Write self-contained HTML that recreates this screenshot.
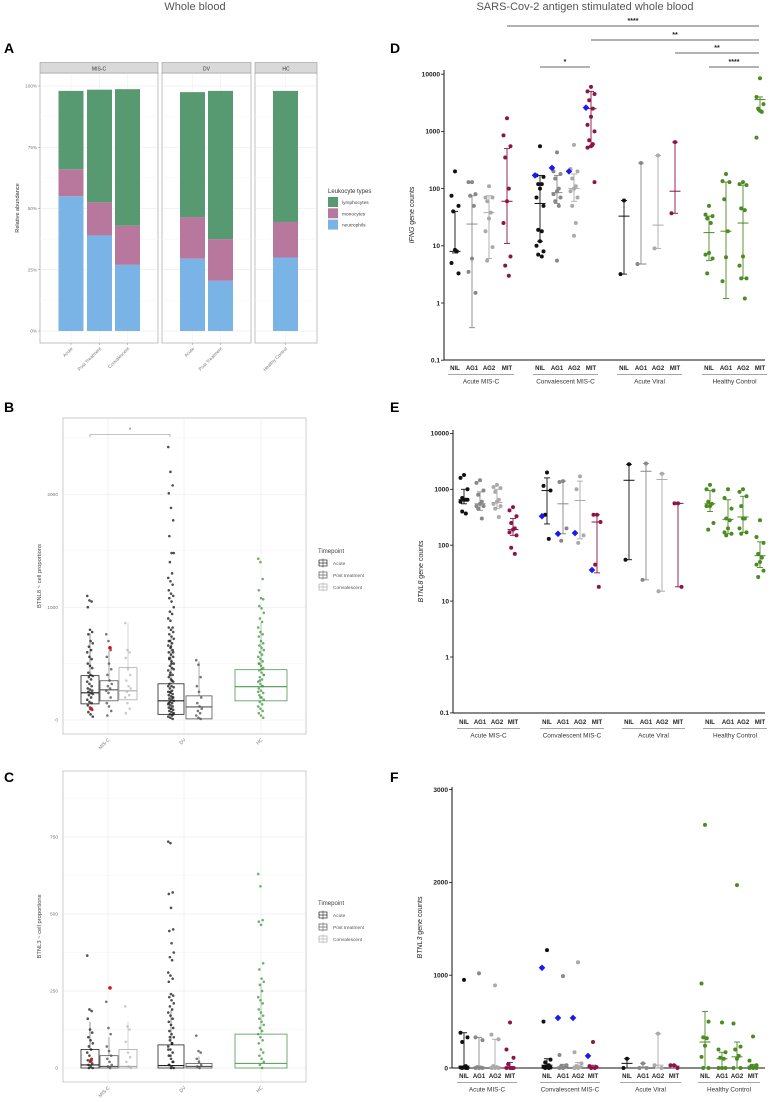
<!DOCTYPE html>
<html><head><meta charset="utf-8"><style>
body{margin:0;background:#fff}
svg{display:block;font-family:"Liberation Sans",sans-serif}
</style></head><body>
<svg id="fig" width="774" height="1102" viewBox="0 0 774 1102">
<text x="195" y="10" text-anchor="middle" font-size="11" fill="#555">Whole blood</text>
<text x="585" y="10" text-anchor="middle" font-size="11" fill="#555">SARS-Cov-2 antigen stimulated whole blood</text>
<text x="4" y="53" font-size="14" font-weight="bold">A</text>
<text x="4" y="412" font-size="14" font-weight="bold">B</text>
<text x="4" y="782" font-size="14" font-weight="bold">C</text>
<text x="390" y="53" font-size="14" font-weight="bold">D</text>
<text x="390" y="412" font-size="14" font-weight="bold">E</text>
<text x="390" y="782" font-size="14" font-weight="bold">F</text>
</svg>
<script>
// ---------- Panel A data ----------
const aCategories=["Acute","Post Treatment","Convalescent","Acute","Post Treatment","Healthy Control"];
const aNeutrophils=[55,39,27,29.5,20.5,30];
const aMonocytes=[11,13.5,16,17,17,14.5];
const aLymphocytes=[32,46,55.7,51,60.5,53.5];
const aTicks=["0%","25%","50%","75%","100%"];
// ---------- Panel B data ----------
const bMisA=[1100,1060,1050,1000,800,780,760,700,680,650,620,600,560,540,500,480,460,420,400,390,380,360,340,320,300,280,270,260,250,240,230,220,200,180,160,150,130,110,90,70,50,30];
const bMisPT=[760,700,620,560,500,450,400,350,320,300,280,260,240,200,150,120,80,40];
const bMisC=[860,620,600,550,450,400,350,300,280,250,220,200,150,100,60];
const bDvA=[2420,2200,2080,2010,1880,1770,1630,1480,1480,1400,1300,1260,1230,1200,1150,1120,1100,1080,1050,1000,960,940,900,880,820,820,800,780,760,740,720,700,680,660,640,620,600,580,560,540,520,500,480,460,440,420,400,380,360,340,320,300,290,280,260,250,240,230,220,210,200,190,180,170,160,150,140,130,120,110,100,90,80,70,60,50,40,30,20,10,700,650,600,550,500,450,400,350,300,250,200,150,100,50];
const bDvPT=[530,490,380,300,250,200,150,120,100,80,60,40,20,10];
const bHc=[1430,1400,1250,1150,1080,1070,1010,990,950,900,870,820,780,760,740,700,680,660,640,620,600,580,560,540,520,500,480,460,440,420,400,380,360,340,320,300,280,260,240,220,200,180,160,140,120,100,80,60,40,20,500,450,400,350,300,250,200];
const bRed=[[0,100],[1,640]];
const bQ1=[143,170,179,50,10,170];
const bMed=[241,268,259,170,116,295];
const bQ3=[393,348,464,321,214,446];
const bTicks=[0,1000,2000];
// ---------- Panel C data ----------
const cMisA=[365,190,185,160,125,115,100,90,80,70,60,50,40,30,25,20,15,10,5,0,0];
const cMisPT=[215,130,110,70,55,40,30,20,10,5,0];
const cMisC=[200,135,125,85,50,35,20,5,0];
const cDvA=[735,730,570,565,520,450,445,405,375,360,350,310,300,290,280,240,235,230,220,210,200,190,180,170,160,150,140,130,120,110,100,90,80,70,60,50,40,30,20,10,5,0,100,80,60,40,20,10,0];
const cDvPT=[105,55,50,30,20,10,5,0];
const cHc=[630,590,480,475,465,340,320,290,280,270,250,230,220,210,190,180,170,160,150,140,130,120,110,100,90,80,60,50,40,30,20,10,0];
const cRed=[[0,25],[1,260]];
const cQ1=[0,0,0,0,0,0];
const cMed=[10,5,5,8,5,15];
const cQ3=[60,40,60,75,15,110];
const cTicks=[0,250,500,750];
// ---------- Panel D data (IFNG) ----------
const dValues=[[200,75,50,40,8,8.5,5,3.3],[130,130,80,75,50,6,3.5,1.5],[110,70,70,60,38,30,18,9.5,5.5],[1700,850,550,350,100,60,25,6.5,4.5,3],
[550,170,160,120,120,100,70,50,19,18,12,10,8,7,6.5],[430,200,180,150,100,90,80,70,60,50,5.5],[580,220,200,150,110,100,90,70,50,25,15],[6000,5000,4500,3500,2500,1800,1300,1000,700,600,550,520,130],
[62,3.2],[280,4.8],[380,9],[650,37],
[50,35,33,30,25,7.5,7,6,3.3],[180,135,130,65,18,6.3,2.4],[130,120,115,45,42,6.5,4.5,2.7,2.7,1.2],[8500,4000,3000,2500,2200,2300,780]];
const dMeans=[8,24,38,60,55,85,100,2500,33,4.8,23,90,17,18,25,3600];
const dErrLo=[7.5,0.37,6,11,12,55,60,550,3.2,4.8,9,37,5.5,1.2,2.7,2300];
const dErrHi=[40,75,75,500,170,170,180,5000,62,280,380,650,33,130,115,4000];
const dBlue=[[4,170],[5,230],[6,200],[7,2600]];
const dTicks=["0.1","1","10","100","1000","10000"];
// ---------- Panel E data (BTNL8) ----------
const eValues=[[1800,1600,1000,700,650,650,600,650,400,370],[1450,1300,950,800,600,550,500,500,450,300],[1200,1100,1050,900,650,600,550,500,450,320],[480,420,330,250,200,190,170,150,90,70],
[2000,1150,950,350,130],[1400,1350,200,120],[1700,1000,150,110],[350,350,260,45,18],
[2800,55],[2900,24],[1900,15],[560,560,18],
[1200,1000,950,600,550,500,500,250,190],[1000,700,450,300,280,200,170,160,150],[1000,900,750,500,300,300,200,170,160],[280,140,110,70,60,50,45,35,27]];
const eMeans=[650,550,580,190,950,550,630,260,1450,2100,1500,560,550,290,320,65];
const eErrLo=[550,420,450,150,240,160,130,32,55,24,15,18,400,160,170,40];
const eErrHi=[1000,900,1000,300,1600,1400,1400,350,2800,2900,1900,560,950,650,750,115];
const eBlue=[[4,330],[5,160],[6,165],[7,36]];
const eTicks=["0.1","1","10","100","1000","10000"];
// ---------- Panel F data (BTNL3) ----------
const fValues=[[950,380,330,280,20,10,5,0,0,0],[1020,330,300,10,5,0,0,0],[890,360,310,20,10,0,0,0],[490,200,110,40,0,0,0,0],
[1270,500,90,60,30,20,10,5,0,0],[990,140,30,20,10,0,0],[1140,170,50,20,10,0,0],[280,20,10,0,0],
[100,0],[50,0,0],[370,30,0],[30,30,0],
[2620,910,500,330,320,240,120,0,0],[490,200,170,110,100,0,0,0],[1970,480,230,200,130,100,0,0],[340,80,30,20,10,0,0,0]];
const fMeans=[20,10,15,10,30,15,20,10,50,10,30,20,280,100,120,20];
const fErrLo=[0,0,0,0,0,0,0,0,0,0,0,0,0,0,0,0];
const fErrHi=[380,330,310,60,100,40,60,30,100,50,370,30,610,170,280,40];
const fBlue=[[4,1080],[5,540],[6,540],[7,130]];
const fTicks=[0,1000,2000,3000];
const subLabels=["NIL","AG1","AG2","MIT"];
const groupNames=["Acute MIS-C","Convalescent MIS-C","Acute Viral","Healthy Control"];

const NS="http://www.w3.org/2000/svg";
const svg=document.getElementById('fig');
function mk(tag,attrs,parent,txt){const e=document.createElementNS(NS,tag);for(const k in attrs)e.setAttribute(k,attrs[k]);if(txt!==undefined)e.textContent=txt;(parent||svg).appendChild(e);return e;}
function grp(name){const g=mk('g',{});return g;}

// ================= Panel A =================
(function(){
  const g=grp('panel-a');
  const y=v=>331-v*2.45;
  const facets=[["MIS-C",40,158],["DV",162,251],["HC",255,317]];
  const barX=[71,99.5,127.5,192.5,220.5,285.5];
  facets.forEach(f=>{
    const fg=mk('g',{},g);
    mk('rect',{x:f[1],y:73,width:f[2]-f[1],height:270,fill:'#fff',stroke:'#999','stroke-width':0.6},fg);
    for(let t=0;t<=100;t+=12.5)mk('line',{x1:f[1],x2:f[2],y1:y(t),y2:y(t),stroke:t%25?'#f4f4f4':'#e6e6e6','stroke-width':0.5},fg);
    barX.forEach(bx=>{if(bx>f[1]&&bx<f[2])mk('line',{x1:bx,x2:bx,y1:73,y2:343,stroke:'#ececec','stroke-width':0.5},fg);});
    const s=mk('rect',{x:f[1],y:62.5,width:f[2]-f[1],height:10.5,fill:'#d9d9d9',stroke:'#999','stroke-width':0.6},fg);
    
    mk('text',{x:(f[1]+f[2])/2,y:70.3,'text-anchor':'middle','font-size':5,fill:'#333'},fg,f[0]);
  });
  aTicks.forEach((t,i)=>{const tt=mk('text',{x:37,y:y(i*25)+1.7,'text-anchor':'end','font-size':4.6,fill:'#777'},g,t);
    
    mk('line',{x1:38,x2:40,y1:y(i*25),y2:y(i*25),stroke:'#888','stroke-width':0.5},g);});
  const yt=mk('text',{x:0,y:0,transform:'translate(19,208) rotate(-90)','text-anchor':'middle','font-size':5.6,fill:'#333'},g,'Relative abundance');
  
  aCategories.forEach((c,i)=>{
    const bx=barX[i],w=25;
    const n=aNeutrophils[i],m=aMonocytes[i],l=aLymphocytes[i];
    const r1=mk('rect',{x:bx-w/2,y:y(n),width:w,height:y(0)-y(n),fill:'#7ab3e6'},g);
    
    const r2=mk('rect',{x:bx-w/2,y:y(n+m),width:w,height:y(n)-y(n+m),fill:'#b8789e'},g);
    
    const r3=mk('rect',{x:bx-w/2,y:y(n+m+l),width:w,height:y(n+m)-y(n+m+l),fill:'#579a72'},g);
    
    mk('line',{x1:bx,x2:bx,y1:343,y2:345,stroke:'#888','stroke-width':0.5},g);
    const tx=mk('text',{x:0,y:0,transform:`translate(${bx+2},${349}) rotate(-45)`,'text-anchor':'end','font-size':4.6,fill:'#777'},g,c);
    
  });
  const lg=mk('g',{},g);
  mk('text',{x:328,y:193,'font-size':6,fill:'#333'},lg,'Leukocyte types');
  [['lymphocytes','#579a72'],['monocytes','#b8789e'],['neutrophils','#7ab3e6']].forEach((e,i)=>{
    const eg=mk('g',{},lg);
    mk('rect',{x:328,y:197+i*11.3,width:10,height:10,fill:e[1]},eg);
    mk('text',{x:342,y:204+i*11.3,'font-size':4.8,fill:'#444'},eg,e[0]);
  });
})();

// ================= Panels B & C (box + jitter) =================
function boxPanel(name,top,bottom,y,ticks,title,groupsVals,reds,q1,med,q3,legendY){
  const g=grp(name);
  const X0=63,X1=306;
  mk('rect',{x:X0,y:top,width:X1-X0,height:bottom-top,fill:'#fff',stroke:'#aaa','stroke-width':0.6},g);
  const step=ticks[1]-ticks[0];
  for(let v=0;v<=ticks[ticks.length-1]+step;v+=step/2){const yy=y(v);if(yy<top)break;mk('line',{x1:X0,x2:X1,y1:yy,y2:yy,stroke:v%step?'#f3f3f3':'#e6e6e6','stroke-width':0.5},g);}
  [108,184,261].forEach(x=>mk('line',{x1:x,x2:x,y1:top,y2:bottom,stroke:'#e6e6e6','stroke-width':0.5},g));
  ticks.forEach(t=>{const tt=mk('text',{x:58,y:y(t)+1.7,'text-anchor':'end','font-size':4.8,fill:'#777'},g,String(t));
    });
  const yt=mk('text',{x:0,y:0,transform:`translate(41,${(top+bottom)/2}) rotate(-90)`,'text-anchor':'middle','font-size':5.8,fill:'#444'},g,title);
  
  [['MIS-C',108],['DV',184],['HC',261]].forEach(l=>{const tx=mk('text',{x:0,y:0,transform:`translate(${l[1]+2},${bottom+6}) rotate(-45)`,'text-anchor':'end','font-size':4.8,fill:'#777'},g,l[0]);
    });
  const cx=[90,109,128,171,199,261],bw=[18,18,18,26,26,52];
  const cols=['#222','#555','#aaa','#222','#555','#4e9a4e'];
  groupsVals.forEach((vals,gi)=>{
    const bg=mk('g',{},g);
    const b=mk('rect',{x:cx[gi]-bw[gi]/2,y:y(q3[gi]),width:bw[gi],height:y(q1[gi])-y(q3[gi]),fill:'none',stroke:cols[gi],'stroke-width':0.8},bg);
    
    mk('line',{x1:cx[gi]-bw[gi]/2,x2:cx[gi]+bw[gi]/2,y1:y(med[gi]),y2:y(med[gi]),stroke:cols[gi],'stroke-width':1.1},bg);
    const iqr=q3[gi]-q1[gi];const hiW=Math.min(Math.max(...vals),q3[gi]+1.5*iqr);
    mk('line',{x1:cx[gi],x2:cx[gi],y1:y(q3[gi]),y2:y(hiW),stroke:cols[gi],'stroke-width':0.5},bg);
    vals.forEach((v,i)=>{
      const jx=((i*37)%11-5)*0.55;
      const c=mk('circle',{cx:cx[gi]+jx,cy:y(v),r:1.3,fill:cols[gi],'fill-opacity':gi==2?0.6:0.8},bg);
      
    });
  });
  reds.forEach(r=>{const c=mk('circle',{cx:cx[r[0]]+1,cy:y(r[1]),r:1.8,fill:'#e01010'},g);
    });
  const lg=mk('g',{},g);
  mk('text',{x:318,y:legendY,'font-size':6,fill:'#444'},lg,'Timepoint');
  [['Acute','#222'],['Post treatment','#555'],['Convalescent','#aaa']].forEach((e,i)=>{
    const eg=mk('g',{},lg);
    const yy=legendY+7+i*12;
    mk('rect',{x:319,y:yy,width:8,height:6,fill:'none',stroke:e[1],'stroke-width':0.7},eg);
    mk('line',{x1:319,x2:327,y1:yy+3,y2:yy+3,stroke:e[1],'stroke-width':0.7},eg);
    mk('line',{x1:323,x2:323,y1:yy-1.5,y2:yy+7.5,stroke:e[1],'stroke-width':0.5},eg);
    mk('text',{x:333,y:yy+5,'font-size':4.8,fill:'#555'},eg,e[0]);
  });
  return g;
}
const gB=boxPanel('panel-b',418,734,v=>720-v*0.1128,bTicks,'BTNL8 ~ cell proportions',[bMisA,bMisPT,bMisC,bDvA,bDvPT,bHc],bRed,bQ1,bMed,bQ3,553);
mk('path',{d:'M90,437 V434.5 H170 V437',fill:'none',stroke:'#888','stroke-width':0.6},gB);
mk('text',{x:130,y:432,'text-anchor':'middle','font-size':6,fill:'#444'},gB,'*');
boxPanel('panel-c',771,1082,v=>1068-v*0.308,cTicks,'BTNL3 ~ cell proportions',[cMisA,cMisPT,cMisC,cDvA,cDvPT,cHc],cRed,cQ1,cMed,cQ3,905);

// ================= Panels D/E/F (dot plots) =================
function dotPanel(name,axisX,xs,top,bottom,y,tickVals,tickLabels,title,values,means,lo,hi,blue,lblY){
  const g=grp(name);
  const endX=765;
  mk('line',{x1:axisX,x2:axisX,y1:top,y2:bottom,stroke:'#111','stroke-width':1},g);
  mk('line',{x1:axisX,x2:endX,y1:bottom,y2:bottom,stroke:'#111','stroke-width':1},g);
  tickVals.forEach((t,i)=>{mk('line',{x1:axisX-3,x2:axisX,y1:y(t),y2:y(t),stroke:'#111','stroke-width':0.8},g);
    const tt=mk('text',{x:axisX-4,y:y(t)+2.3,'text-anchor':'end','font-size':6.6,'font-weight':'bold',fill:'#222'},g,tickLabels[i]);
    });
  const yt=mk('text',{x:0,y:0,transform:`translate(${axisX-30},${(top+bottom)/2}) rotate(-90)`,'text-anchor':'middle','font-size':7,fill:'#222'},g);
  
  mk('tspan',{'font-style':'italic'},yt,title);mk('tspan',{},yt,' gene counts');
  const colsBase=['#111','#888','#aaa','#8b1448'];
  values.forEach((vals,k)=>{
    const gi=Math.floor(k/4),si=k%4;const col=gi==3?'#4c8a22':colsBase[si];const x=xs[k];
    const sg=mk('g',{},g);
    mk('line',{x1:x,x2:x,y1:y(lo[k]),y2:y(hi[k]),stroke:col,'stroke-width':0.9},sg);
    mk('line',{x1:x-3,x2:x+3,y1:y(lo[k]),y2:y(lo[k]),stroke:col,'stroke-width':0.9},sg);
    mk('line',{x1:x-3,x2:x+3,y1:y(hi[k]),y2:y(hi[k]),stroke:col,'stroke-width':0.9},sg);
    mk('line',{x1:x-5.5,x2:x+5.5,y1:y(means[k]),y2:y(means[k]),stroke:col,'stroke-width':1},sg);
    vals.forEach((v,i)=>{const jx=[0,-3.5,3.5,-1.8,1.8][i%5];
      const c=mk('circle',{cx:x+jx,cy:y(v),r:2,fill:col},sg);
      });
    mk('text',{x:x,y:lblY,'text-anchor':'middle','font-size':6,'font-weight':'bold',fill:'#222'},g,subLabels[si]);
  });
  blue.forEach(b=>{const x=xs[b[0]]-5,yy=y(b[1]);
    const p=mk('path',{d:`M${x},${yy-3.3} L${x+3.3},${yy} L${x},${yy+3.3} L${x-3.3},${yy}Z`,fill:'#1a1aee'},g);
    });
  for(let gi=0;gi<4;gi++){const x1=xs[gi*4]-7,x2=xs[gi*4+3]+7;
    mk('line',{x1:x1,x2:x2,y1:lblY+4.5,y2:lblY+4.5,stroke:'#888','stroke-width':0.7},g);
    const gt=mk('text',{x:(x1+x2)/2,y:lblY+13.5,'text-anchor':'middle','font-size':6.4,fill:'#333'},g,groupNames[gi]);
    }
  return g;
}
const logY=(top0,dec)=>v=>top0-Math.log10(v)*dec;
const dX=[455,472,489,507,540,557,574,591,624,641,658,675,709,726,743,760];
const eX=[464,480,497,513,547,563,580,597,629,646,662,678,710,728,743,760];
const fX=[464,479,495,510,547,563,578,593,627,643,658,674,705,722,737,753];
const gD=dotPanel('panel-d',444,dX,70,360,logY(303,57.2),[0.1,1,10,100,1000,10000],dTicks,'IFNG',dValues,dMeans,dErrLo,dErrHi,dBlue,370);
const gE=dotPanel('panel-e',453,eX,430,713,logY(657,55.9),[0.1,1,10,100,1000,10000],eTicks,'BTNL8',eValues,eMeans,eErrLo,eErrHi,eBlue,724);
dotPanel('panel-f',452,fX,787,1068,v=>1068-v*0.0928,fTicks,fTicks.map(String),'BTNL3',fValues,fMeans,fErrLo,fErrHi,fBlue,1078);
// significance bars D
[[507,759,26,'****'],[591,759,40,'**'],[675,759,53,'**'],[709,759,67,'****'],[540,590,67,'*']].forEach(s=>{
  const sg=mk('g',{},gD);
  mk('line',{x1:s[0],x2:s[1],y1:s[2],y2:s[2],stroke:'#333','stroke-width':0.7},sg);
  mk('text',{x:(s[0]+s[1])/2,y:s[2]-3,'text-anchor':'middle','font-size':7,'font-weight':'bold',fill:'#222'},sg,s[3]);
});
</script>
</body></html>
